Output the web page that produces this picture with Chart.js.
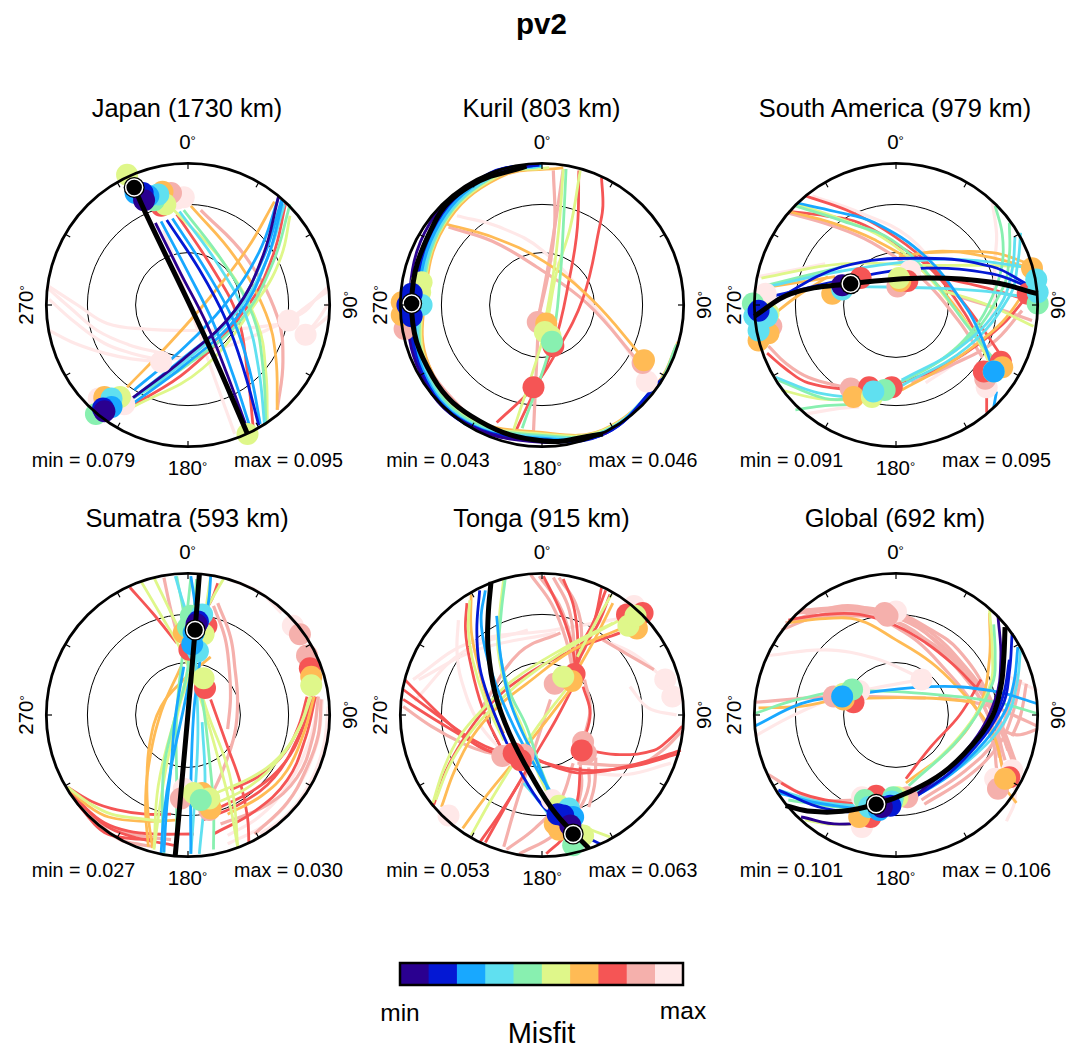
<!DOCTYPE html>
<html>
<head>
<meta charset="utf-8">
<title>pv2</title>
<script src="https://cdn.jsdelivr.net/npm/chart.js@4"></script>
<style>
    html, body { margin: 0; background: #fff; }
    #page { position: relative; width: 1076px; height: 1047px; overflow: hidden; font-family: "Liberation Sans", sans-serif; color: #000; }
    canvas { position: absolute; }
    .label { position: absolute; white-space: nowrap; transform: translate(-50%, -50%); line-height: 1; }
    .deg { font-size: 13px; position: relative; top: -4px; }
</style>
</head>
<body>
<div id="page"></div>
<script>
// ===========================
// Panel info
// ===========================
const panelNames = ['Japan', 'Kuril', 'South America', 'Sumatra', 'Tonga', 'Global'];
const panelDepths = [1730, 803, 979, 593, 915, 692];
const panelMins = ['0.079', '0.043', '0.091', '0.027', '0.053', '0.101'];
const panelMaxs = ['0.095', '0.046', '0.095', '0.030', '0.063', '0.106'];
const misfitColors = ['#2a0090', '#0418d4', '#18a8ff', '#60e0f0', '#88f0b0', '#dff78a', '#ffbb55', '#f55555', '#f5b0ac', '#ffe8e8'];
const misfitBins = [1, 1, 1, 1, 1, 1, 1, 1, 1, 1];
const ringRadii = [37, 71];

// Values, rim of the net = 100.
// Lines are [colour bin, x1, y1, x2, y2, ...], dots are [colour bin, x, y].
const japanLines = [
    [9, -98,13, -78,0, -57,-13, -30,-17, 0,-18, 35,-17, 70,-13], [9, -98,4, -80,-12, -59,-27, -40,-34, -19,-39], [9, -98,-18, -80,-27, -59,-34, -40,-38, -19,-40],
    [9, -98,11, -82,-3, -64,-18, -42,-28, -19,-34], [9, 99,13, 90,4, 83,-4, 71,-11], [9, 99,1, 92,-10, 83,-21], [9, 99,-8, 92,-14, 83,-21],
    [9, -17,53, -5,18, 7,-18, 20,-55, 33,-91], [9, 99,10, 85,0, 71,-11], [9, -19,-40, 25,-30, 71,-11],
    [8, 9,67, 40,35, 63,-8, 67,-40, 63,-74],
    [7, -8,64, 16,28, 35,-8, 42,-48, 46,-86], [7, -41,-72, 0,-46, 42,-1, 60,35, 69,72],
    [6, 2,70, 33,34, 55,-6, 62,-37, 63,-74], [6, -43,-58, -13,-27, 16,6, 42,40, 61,73],
    [5, -10,67, 25,30, 49,-13, 55,-48, 56,-81], [5, -39,-72, 10,-45, 51,6, 66,35, 72,63],
    [4, -3,67, 25,30, 46,-8, 53,-45, 55,-83], [4, -41,-67, 0,-42, 37,-11, 60,30, 72,71],
    [3, -6,66, 21,29, 41,-8, 50,-46, 54,-84], [3, -39,-66, 0,-38, 35,-4, 56,33, 68,71],
    [2, -19,59, 0,23, 18,-13, 32,-50, 44,-87], [2, -11,61, 13,24, 33,-13, 44,-48, 51,-84], [2, -41,-71, -3,-43, 35,-8, 56,33, 67,74],
    [2, -38,-60, -6,-33, 25,-1, 50,37, 64,76], [2, -38,-65, -4,-38, 30,-8, 53,33, 66,74],
    [1, -15,60, 8,25, 27,-11, 40,-48, 50,-85],
    [0, -23,58, -5,22, 13,-13, 28,-50, 42,-88], [0, -41,-67, -3,-38, 33,-4, 53,35, 64,77]
];
const japanDots = [
    [9,-8,75], [9,-3,76], [9,-63,-66], [9,-45,-70], [9,-19,-40], [9,71,-11], [9,83,-21],
    [8,-12,79], [8,-59,-66], [7,-19,70], [6,-18,80], [6,-59,-65],
    [5,-43,92], [5,-16,71], [5,-48,-65], [5,42,-91], [4,-24,74], [4,-65,-77],
    [3,-21,78], [3,-54,-66], [2,-37,79], [2,-28,77], [2,-54,-72], [1,-32,79], [1,-60,-73],
    [0,-31,74], [0,-59,-75]
];
const japanBest = [-38, 83];
const japanBestLine = [-38,83, -30,65, 14,-27, 42,-91];

const kurilLines = [
    [9, -60,63, -30,55, 1,38, 40,-5, 74,-51],
    [8, 8,95, 9,57, 5,25, -3,-11], [8, 15,96, 9,55, 3,20, -3,-11], [8, -3,-23, -6,-89], [8, -66,55, -35,45, -4,27, 32,1, 69,-41],
    [8, -85,-30, -75,-52, -55,-75],
    [7, 42,90, 43,70, 41,57, 29,5, 8,-37, -6,-58, -32,-83], [7, 26,95, 25,55, 20,22, 8,-29, -18,-88],
    [6, -67,57, -35,48, 1,31, 35,4, 71,-37],
    [5, 27,95, 20,55, 10,22, 2,-19, -20,-88], [5, 15,96, 12,55, 8,22, 1,-19],
    [4, 17,96, 15,55, 13,22, 7,-25, -14,-87],
    [6, 15,97, -30,90, -69,55, -83,1, -80,-42, -51,-79, 0,-90, 43,-88, 81,-56, 96,-26],
    [5, 5,97, -31,91, -70,56, -84,1, -81,-43, -51,-80, 0,-91, 44,-88, 82,-56, 96,-27],
    [4, 0,98, -32,92, -70,57, -85,1, -82,-44, -52,-81, 0,-92, 44,-89, 82,-56, 95,-28],
    [3, 0,98, -33,92, -71,57, -86,1, -83,-45, -53,-82, 0,-93, 45,-89, 83,-56],
    [3, 0,98, -33,93, -71,58, -87,1, -83,-46, -53,-82, 0,-94, 45,-89, 83,-55],
    [2, 0,99, -34,93, -72,58, -88,1, -84,-46, -53,-83, 0,-94, 45,-90, 83,-55],
    [2, 0,99, -35,93, -73,59, -89,1, -84,-47, -53,-83, 0,-95, 45,-90, 84,-54],
    [1, -2,99, -36,93, -74,59, -90,1, -85,-47, -54,-83, 0,-95, 46,-90, 84,-53],
    [1, -2,99, -37,93, -75,60, -92,1, -85,-48, -54,-84, 0,-96, 46,-90, 85,-52],
    [0, -10,99, -40,91, -79,58, -94,1, -86,-48, -55,-83, 0,-97, 46,-90]
];
const kurilDots = [
    [9,74,-54], [8,-97,-17], [8,71,-41], [8,-3,-12], [7,8,-29], [7,-6,-58], [6,72,-39], [6,-99,2], [6,3,-13], [6,-99,-7],
    [5,-85,16], [5,-86,9], [5,2,-19], [5,6,-22], [4,7,-26], [3,-85,0], [1,-92,8], [1,-92,-8], [1,-95,0]
];
const kurilBest = [-92, 1];
const kurilBestLine = [-11,98, -51,84, -76,58, -92,1, -77,-51, -44,-82, 1,-96, 43,-91];

const southAmericaLines = [
    [9, -59,77, -25,65, 9,48, 32,20, 49,-13], [9, 68,72, 71,50, 70,34, 66,-13, 45,-38, 21,-55], [9, -97,20, -50,29], [9, -64,-77, -40,-73, -26,-72],
    [8, -76,65, -45,56, -17,44, 17,20, 44,-11, 61,-37], [8, 89,-4, 68,-27, 40,-42, 11,-55], [8, 44,6, 70,-2, 96,-11], [8, -90,-29, -78,-41, -62,-51, -33,-59],
    [7, -64,77, -35,67, -8,53, 20,32, 44,6, 60,-15, 73,-34], [7, -75,66, -50,63, -26,58, 0,43, 25,25, 48,-5, 63,-34], [7, 94,8, 75,-14, 49,-34, 25,-47, 2,-55],
    [7, 33,19, 60,13, 92,4], [7, -91,-34, -78,-45, -62,-55, -26,-61], [7, 64,-60, 64,-76],
    [6, -76,66, -45,58, -15,46, 18,25, 44,-4, 63,-34], [6, 92,11, 75,-12, 51,-32, 28,-47, 4,-60], [6, -88,13, -43,20], [6, -88,-8, -70,6, -48,20],
    [6, 2,34, 33,38, 65,34, 92,27], [6, 21,37, 68,37, 94,29],
    [5, -70,71, -40,61, -10,48, 18,25, 40,-1, 55,-20, 66,-41], [5, -95,19, -38,29, 21,28, 60,28, 92,27], [5, 30,11, 65,0, 97,-15], [5, -81,-60, -55,-66, -26,-67],
    [4, -71,70, -37,59, -3,46, 25,19, 49,-13, 68,-37], [4, -95,13, -38,27], [4, 70,70, 75,50, 75,29, 68,6, 54,-18, 30,-40, 2,-55], [4, 80,58, 80,35, 75,11, 48,-27, 7,-53],
    [4, -71,-74, -50,-71, -26,-70], [4, -83,-53, -50,-66, -26,-66],
    [3, -91,13, -38,24, 25,32, 60,31, 89,27], [3, -26,13, 25,12, 60,10, 89,6], [3, 88,51, 86,30, 80,6, 50,-30, 4,-57], [3, 84,48, 82,25, 73,-1, 45,-30, 4,-53], [3, -85,-51, -55,-62, -19,-66],
    [2, -70,72, -43,66, -15,58, 21,34, 49,-1, 60,-22, 68,-44], [2, 71,-61, 69,-72],
    [1, -90,1, -38,27, 21,33, 68,27, 92,15], [1, -88,6, -26,20, 21,26, 68,22, 93,13]
];
const southAmericaDots = [
    [9,-92,8], [9,10,24], [9,64,-58], [8,1,13], [8,-32,-59], [8,63,-52], [8,-88,-15],
    [7,-25,19], [7,93,8], [7,-19,-58], [7,-3,-58], [7,74,-40], [7,62,-47], [7,8,17],
    [6,-97,-25], [6,-90,-20], [6,-45,8], [6,96,26], [6,3,17], [6,-30,-65], [6,75,-44],
    [5,-90,-6], [5,2,19], [5,-17,-65], [5,69,-47], [4,-101,1], [4,100,1], [4,-8,-60],
    [3,-100,-8], [3,-97,-18], [3,-91,-8], [3,-38,11], [3,99,18], [3,100,9], [3,-16,-61],
    [2,69,-47], [1,-97,-4], [0,-38,14]
];
const southAmericaBest = [-32, 15];
const southAmericaBestLine = [-100,-8, -74,8, -32,15, 21,19, 68,16, 100,8];

const sumatraLines = [
    [9, 28,96, 50,87, 66,72], [9, 95,11, 91,-20, 75,-55, 55,-77, 28,-91], [9, 99,6, 95,-25, 82,-55, 68,-72, 51,-84], [9, -71,-72, -57,-83, -41,-91],
    [9, 93,12, 85,-20, 70,-50, 50,-72, 28,-85],
    [8, -17,97, -13,78, -8,58], [8, 21,79, 30,55, 33,34, 35,10, 33,-13, 25,-38, 15,-60], [8, 18,77, 26,55, 29,34, 30,12, 28,-10],
    [8, 92,13, 88,-16, 77,-44, 55,-64, 23,-77], [8, 94,11, 92,-14, 84,-37, 70,-62, 47,-84],
    [8, -85,-51, -72,-67, -57,-78, -35,-85, -12,-88], [8, -78,-60, -65,-75, -48,-88, -36,-91, -24,-93],
    [7, -41,90, -25,72, -8,51], [7, 21,93, 17,82, 11,72], [7, 16,11, 27,-20, 37,-48, 42,-72, 43,-91],
    [7, 84,13, 78,-8, 68,-27, 52,-42, 30,-53], [7, 87,13, 80,-12, 68,-34, 48,-52, 23,-65],
    [7, 90,13, 83,-16, 70,-46, 47,-68, 18,-84], [7, 88,13, 78,-15, 61,-44, 38,-62, 11,-74],
    [7, -85,-51, -68,-61, -50,-67, -30,-70, -12,-70], [7, -85,-51, -73,-65, -59,-76, -42,-82, -24,-84, 4,-84],
    [7, -83,-55, -72,-70, -59,-83, -42,-87, -24,-88], [7, -85,-51, -70,-68, -55,-80, -35,-87, -10,-92],
    [6, -5,34, -19,2, -28,-37, -30,-65, -28,-93], [6, 16,41, -3,25, -19,6, -27,-20, -29,-48, -28,-72, -25,-94],
    [6, 89,13, 82,-12, 70,-39, 52,-57, 28,-70], [6, -85,-51, -72,-63, -56,-72, -30,-75, -5,-74],
    [5, -33,94, -20,72, -5,46, 5,22, 14,-5, 23,-37, 30,-65, 35,-93], [5, -24,97, -11,70, 0,46, 14,1, 28,-37, 33,-65, 35,-93],
    [5, 25,96, 17,82, 11,70, 2,40, -5,11, -16,-40, -24,-94], [5, 16,98, 8,50, -10,-5, -21,-50, -24,-95],
    [5, 86,13, 79,-8, 66,-29, 44,-50, 14,-65], [5, 87,13, 78,-10, 64,-30, 45,-44, 20,-55], [5, -85,-51, -70,-62, -54,-70, -35,-73, -19,-75],
    [4, -8,98, -2,65, 0,34, -10,-5, -17,-37, -18,-70, -17,-98], [4, 6,96, 4,65, 5,40, 11,5, 15,-30, 18,-65, 18,-95], [4, 2,97, -3,50, -8,0, -8,-50, -8,-98],
    [3, -9,98, -3,78, 4,58, 6,22, 7,-13, 5,-55, 2,-98], [3, 10,-5, 12,-50, 8,-98],
    [2, 2,98, 5,78, 7,58, -2,10, -12,-37, -17,-70, -19,-98], [2, 16,98, 15,84, 13,70, 8,35, 4,1, 2,-50, 2,-98], [2, -3,34, -9,-2, -12,-37, -15,-65, -17,-97]
];
const sumatraDots = [
    [9,74,63], [9,-3,-52], [8,79,57], [8,84,42], [8,-5,-59], [8,15,-67], [7,86,33], [7,13,63], [7,12,19], [7,1,46],
    [6,87,27], [6,-3,58], [6,16,-66], [6,10,-55], [5,87,21], [5,11,26], [5,4,-55], [5,15,-59], [5,11,57],
    [4,2,70], [4,0,62], [4,9,-60], [3,10,71], [3,7,45], [2,4,58], [2,3,50], [1,7,66], [0,6,64]
];
const sumatraBest = [5, 60];
const sumatraBestLine = [8,99, 5,60, 0,1, -9,-99];

const tongaLines = [
    [9, -91,25, -51,51, 8,60, 55,68], [9, -87,25, -46,46, 10,58], [9, 32,-41, 60,-42, 91,-34], [9, -59,67, -60,45, -57,25, -45,-5, -27,-27],
    [9, -90,10, -55,45, -10,60], [9, 43,53, 65,43, 87,25], [9, 62,20, 75,5, 95,0],
    [8, -98,6, -78,-8, -56,-20, -40,-26, -20,-29], [8, 25,-34, 67,-35, 85,-25, 99,-11], [8, -8,99, 7,78, 17,53, 22,29], [8, 8,97, 18,78, 22,58, 23,29],
    [8, 12,97, 24,78, 28,55, 25,30], [8, -2,98, 12,78, 20,55, 23,30],
    [8, -42,6, -16,44, 13,58], [8, 43,53, 79,32], [8, 6,11, -8,-32, -18,-62, -27,-93], [8, 33,-37, 33,-50, 27,-65, 8,-85, -16,-98], [8, 22,-34, 13,-60, -5,-80, -25,-95],
    [8, 30,25, 34,5, 30,-15], [8, 38,-30, 37,-50, 33,-65], [8, 27,-35, 28,-50, 24,-68],
    [7, -97,25, -80,8, -60,-11, -45,-22, -27,-29], [7, -98,18, -78,3, -56,-13, -40,-22, -23,-28], [7, -98,11, -76,-3, -51,-18, -36,-26, -20,-31],
    [7, -8,-29, 10,-37, 29,-41, 65,-35, 98,-25], [7, -4,-32, 20,-38, 43,-39, 70,-35, 97,-27], [7, 32,-25, 55,-28, 79,-25, 90,-17, 99,-8],
    [7, 1,98, 10,80, 17,63, 22,45, 24,29], [7, 15,96, 22,78, 25,58, 25,43, 24,30], [7, 42,90, 38,70, 32,51, 25,37],
    [7, 22,20, 10,-3, -4,-27, -22,-58, -40,-90], [7, 29,20, 34,1, 29,-20], [7, 55,58, 20,45, -16,25, -40,4, -56,-18, -68,-40, -77,-65], [7, 48,85, 40,65, 29,46, 22,28],
    [7, 27,-37, 25,-60, 17,-84, 3,-98], [7, -53,79, -54,60, -51,39, -42,5, -27,-27], [7, -16,-48, -30,-70, -44,-90], [7, 45,88, 36,65, 26,47],
    [6, 20,18, 0,-8, -23,-37, -40,-58, -56,-80], [6, 56,61, 22,46, -11,22, -32,5, -49,-15, -62,-40, -71,-65], [6, -50,85, -50,60, -46,39, -38,10, -27,-13], [6, 50,79, 38,55, 24,30],
    [5, 17,18, -3,-8, -20,-34, -36,-60, -50,-85], [5, 55,67, 20,48, -13,25, -34,6, -51,-13, -65,-35, -75,-60], [5, 50,65, 15,47, -20,25, -41,5, -58,-15, -69,-37, -77,-62],
    [5, -51,81, -52,60, -49,39, -40,10, -27,-18], [5, -27,96, -30,70, -31,46, -24,15, -13,-11, -4,-38, 6,-60], [5, 17,-72, 32,-80, 48,-86], [5, 49,85, 36,62, 25,41],
    [4, -26,96, -29,70, -30,46, -23,17, -11,-8, -2,-35, 8,-60],
    [3, -13,-48, -3,-60, 6,-72],
    [2, -40,88, -43,68, -40,46, -32,20, -20,-8, -10,-27, 1,-46, 10,-60, 22,-78], [2, -32,70, -29,40, -23,11, -14,-12, -4,-32, 7,-60],
    [1, -44,88, -46,60, -44,34, -37,10, -27,-15, -20,-30, -13,-44, 3,-67, 20,-80, 41,-91]
];
const tongaDots = [
    [9,65,77], [9,87,25], [9,92,13], [9,-66,-71], [9,7,-60], [9,-23,-28], [8,9,22], [8,29,-19], [8,31,-27], [8,-13,-28], [8,-28,-29],
    [7,60,71], [7,71,72], [7,23,29], [7,28,-25], [7,-20,-27], [7,-15,-32], [6,67,61], [6,21,24], [6,12,-81], [6,9,-77],
    [5,61,63], [5,66,70], [5,15,27], [5,12,-64], [5,29,-85], [4,22,-92], [3,19,-66], [2,22,-72], [1,15,-71], [1,11,-70], [0,20,-78]
];
const tongaBest = [22, -84];
const tongaBestLine = [-36,94, -38,70, -38,46, -33,15, -23,-13, -8,-42, 10,-70, 33,-94];

const globalLines = [
    [9, -100,-15, -74,-1, -43,13], [9, -90,42, -50,46, -15,40, 16,27], [9, 75,29, 88,23, 100,17], [9, -43,13, -10,20, 18,25], [9, 82,-39, 84,-60, 78,-75],
    [8, -81,60, -55,70, -26,74, 21,58, 63,11, 77,-32], [8, -78,65, -38,77, -8,73], [8, -69,72, -35,74, 0,72, 25,60, 44,46, 65,15, 75,-13, 82,-32],
    [8, -66,74, -30,76, -3,72, 25,58, 49,34, 68,8, 77,-13, 84,-32], [8, -8,70, 17,56, 40,39, 58,14, 70,-13, 75,-36], [8, -5,65, 15,52, 33,34, 53,10, 68,-18, 71,-38],
    [8, -72,68, -30,72, 5,68, 30,50, 55,25, 70,0, 79,-25], [8, -74,66, -35,70, 0,66, 28,47, 52,22, 66,-3, 73,-30],
    [8, -100,9, -43,13, 21,12], [8, 30,13, 68,6, 85,-1, 100,-8], [8, 85,29, 80,7, 70,-18, 48,-40, 18,-60], [8, 88,25, 82,0, 72,-22, 50,-44, 20,-63], [8, -90,-42, -72,-53, -55,-60, -29,-60],
    [8, 92,22, 88,0, 82,-15], [8, 70,-8, 85,-14, 100,-10],
    [7, -76,67, -50,71, -26,71, 0,63, 21,51, 40,36, 56,20], [7, 60,25, 45,0, 25,-22, 7,-45], [7, -81,-48, -68,-55, -50,-60, -26,-63],
    [6, -77,65, -50,68, -26,67, 0,53, 25,37, 45,18, 61,-1, 70,-17, 75,-37], [6, 66,72, 66,40, 59,6, 40,-22, 7,-48], [6, -97,5, -69,6, -38,11, 21,12, 56,9], [6, 77,-52, 85,-62],
    [5, 66,74, 68,45, 66,20, 45,-15, 11,-48], [5, -64,-74, -48,-77, -31,-77],
    [4, 69,64, 70,42, 68,22, 46,-15, 9,-50], [4, -100,1, -69,11, -31,17, 44,13, 75,8, 100,1], [4, -76,-60, -50,-64, -30,-66],
    [3, 88,47, 85,20, 77,-4, 56,-28, 30,-46, -10,-62, -50,-62, -83,-53],
    [2, -100,-8, -67,8, -41,13, 25,20, 68,17, 100,8], [2, 86,48, 83,22, 75,-1, 53,-29, 25,-51, -10,-65, -50,-63, -83,-55],
    [1, 82,58, 80,30, 75,6, 52,-27, 21,-53, -10,-67, -50,-66, -83,-53], [1, 80,39, 76,15, 68,-4, 48,-30, 18,-52],
    [0, 72,70, 74,40, 70,11, 52,-22, 21,-51, -12,-72, -40,-77, -67,-72]
];
const globalDots = [
    [9,0,73], [9,18,25], [9,-26,17], [9,82,-39], [9,70,-45], [9,-24,-79], [9,-24,-58],
    [8,-8,72], [8,-6,70], [8,-44,13], [8,72,-52], [8,8,-58], [7,-30,9], [7,80,-44], [7,-18,-72], [7,-14,-57],
    [6,-37,11], [6,77,-45], [6,-26,-72], [5,-37,15], [5,1,-58], [4,-31,18], [4,-22,-60], [4,-2,-58],
    [3,-19,-65], [3,-3,-61], [2,-38,13], [2,-12,-67], [1,-4,-64], [0,-10,-65]
];
const globalBest = [-14, -63];
const globalBestLine = [-78,-64, -60,-68, -38,-68, -14,-63, 10,-54, 33,-41, 53,-22, 68,-1, 74,20, 76,39, 77,62];

const panelLines = [japanLines, kurilLines, southAmericaLines, sumatraLines, tongaLines, globalLines];
const panelDots = [japanDots, kurilDots, southAmericaDots, sumatraDots, tongaDots, globalDots];
const panelBest = [japanBest, kurilBest, southAmericaBest, sumatraBest, tongaBest, globalBest];
const panelBestLines = [japanBestLine, kurilBestLine, southAmericaBestLine, sumatraBestLine, tongaBestLine, globalBestLine];

// ===========================
// Helpers
// ===========================
const page = document.getElementById('page');

function addLabel(html, x, y, size, extra) {
    const div = document.createElement('div');
    div.className = 'label';
    div.innerHTML = html;
    div.style.left = x + 'px';
    div.style.top = y + 'px';
    div.style.fontSize = size + 'px';
    if (extra) div.style.cssText += extra;
    page.appendChild(div);
}

function addCanvas(x, y, w, h) {
    const canvas = document.createElement('canvas');
    canvas.width = w;
    canvas.height = h;
    canvas.style.left = x + 'px';
    canvas.style.top = y + 'px';
    page.appendChild(canvas);
    return canvas;
}

// Flat [x1, y1, x2, y2...] into chart points
function toPoints(flat) {
    const points = [];
    for (let i = 0; i < flat.length; i += 2) {
        points.push({ x: flat[i], y: flat[i + 1] });
    }
    return points;
}

// Rings, rim and ticks of the net, through the chart's scales
const netFrame = {
    id: 'netFrame',
    beforeDatasetsDraw(chart) {
        const { ctx, scales } = chart;
        const x0 = scales.x.getPixelForValue(0);
        const y0 = scales.y.getPixelForValue(0);
        ctx.save();
        ctx.strokeStyle = '#000';
        ctx.lineWidth = 1;
        ringRadii.forEach(r => {
            const radius = scales.x.getPixelForValue(r) - x0;
            ctx.beginPath();
            ctx.arc(x0, y0, radius, 0, Math.PI * 2);
            ctx.stroke();
        });
        ctx.restore();
    },
    afterDatasetsDraw(chart) {
        const { ctx, scales } = chart;
        const x0 = scales.x.getPixelForValue(0);
        const y0 = scales.y.getPixelForValue(0);
        ctx.save();
        ctx.strokeStyle = '#000';
        ctx.lineWidth = 1.2;
        for (let az = 0; az < 360; az += 30) {
            const a = az * Math.PI / 180;
            ctx.beginPath();
            ctx.moveTo(scales.x.getPixelForValue(100 * Math.sin(a)), scales.y.getPixelForValue(100 * Math.cos(a)));
            ctx.lineTo(scales.x.getPixelForValue(96 * Math.sin(a)), scales.y.getPixelForValue(96 * Math.cos(a)));
            ctx.stroke();
        }
        ctx.lineWidth = 2.8;
        ctx.beginPath();
        ctx.arc(x0, y0, scales.x.getPixelForValue(100) - x0, 0, Math.PI * 2);
        ctx.stroke();
        ctx.restore();
    }
};

// Chart.js paints the first dataset last, so build in paint order and reverse
function buildDatasets(lines, dots, best, bestLine) {
    const sets = [];
    lines.slice().sort((a, b) => b[0] - a[0]).forEach(line => {
        sets.push({
            data: toPoints(line.slice(1)),
            showLine: true,
            tension: 0.4,
            borderColor: misfitColors[line[0]],
            borderWidth: line[0] >= 8 ? 3.2 : 2.8,
            pointRadius: 0,
            clip: false
        });
    });
    const sortedDots = dots.slice().sort((a, b) => b[0] - a[0]);
    sets.push({
        data: sortedDots.map(d => ({ x: d[1], y: d[2] })),
        pointRadius: 11,
        pointBorderWidth: 0,
        pointBackgroundColor: sortedDots.map(d => misfitColors[d[0]]),
        clip: false
    });
    sets.push({
        data: toPoints(bestLine),
        showLine: true,
        tension: 0.4,
        borderColor: '#000',
        borderWidth: 5,
        pointRadius: 0,
        clip: false
    });
    sets.push({ data: [{ x: best[0], y: best[1] }], pointRadius: 10.5, pointBorderWidth: 0, pointBackgroundColor: '#000', clip: false });
    sets.push({ data: [{ x: best[0], y: best[1] }], pointRadius: 8.5, pointBorderWidth: 1.5, pointBorderColor: '#fff', pointBackgroundColor: '#000', clip: false });
    return sets.reverse();
}

function drawPanel(i, cx, cy) {
    addLabel(panelNames[i] + ' (' + panelDepths[i] + ' km)', cx - 0.5, cy - 196.5, 25.4);
    addLabel('0<span class="deg">°</span>', cx, cy - 163, 20.5);
    addLabel('180<span class="deg">°</span>', cx, cy + 163, 20.5);
    addLabel('270<span class="deg">°</span>', cx - 162, cy, 20.5, 'transform: translate(-50%, -50%) rotate(-90deg);');
    addLabel('90<span class="deg">°</span>', cx + 162, cy, 20.5, 'transform: translate(-50%, -50%) rotate(-90deg);');
    addLabel('min = ' + panelMins[i], cx - 104, cy + 156, 19.7);
    addLabel('max = ' + panelMaxs[i], cx + 101, cy + 156, 19.7);

    new Chart(addCanvas(cx - 170, cy - 170, 340, 340), {
        type: 'scatter',
        data: { datasets: buildDatasets(panelLines[i], panelDots[i], panelBest[i], panelBestLines[i]) },
        options: {
            responsive: false,
            animation: false,
            events: [],
            layout: { padding: 0, autoPadding: false },
            plugins: { legend: { display: false }, tooltip: { enabled: false } },
            scales: {
                x: { type: 'linear', min: -120, max: 120, display: false },
                y: { type: 'linear', min: -120, max: 120, display: false }
            }
        },
        plugins: [netFrame]
    });
}

// Misfit colour bar, one stacked bar per bin
function drawColorBar() {
    const barFrame = {
        id: 'barFrame',
        afterDatasetsDraw(chart) {
            const { ctx, chartArea } = chart;
            ctx.save();
            ctx.strokeStyle = '#000';
            ctx.lineWidth = 2.5;
            ctx.strokeRect(chartArea.left, chartArea.top, chartArea.width, chartArea.height);
            ctx.restore();
        }
    };
    new Chart(addCanvas(396, 959, 291, 30), {
        type: 'bar',
        data: {
            labels: ['Misfit'],
            datasets: misfitBins.map((bin, i) => ({
                data: [bin],
                backgroundColor: misfitColors[i],
                barPercentage: 1,
                categoryPercentage: 1
            }))
        },
        options: {
            indexAxis: 'y',
            responsive: false,
            animation: false,
            events: [],
            layout: { padding: 4 },
            plugins: { legend: { display: false }, tooltip: { enabled: false } },
            scales: {
                x: { stacked: true, min: 0, max: 10, display: false },
                y: { stacked: true, display: false }
            }
        },
        plugins: [barFrame]
    });
    addLabel('min', 400, 1013, 24.5);
    addLabel('max', 683, 1011, 24.5);
    addLabel('Misfit', 541.5, 1033, 29);
}

addLabel('pv2', 541.5, 24, 29.5, 'font-weight: bold;');
const centersX = [187.5, 542, 895.5];
const centersY = [305, 715];
panelNames.forEach((name, i) => {
    drawPanel(i, centersX[i % 3], centersY[Math.floor(i / 3)]);
});
drawColorBar();
</script>
</body>
</html>
